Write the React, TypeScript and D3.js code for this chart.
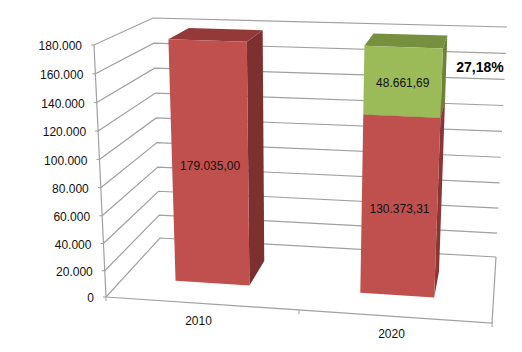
import React from "react";
import * as d3 from "d3";

const categories = ["2010", "2020"];
const redValues = [179035.0, 130373.31];
const greenValues = [0, 48661.69];
const redLabels = ["179.035,00", "130.373,31"];
const greenLabels = ["", "48.661,69"];
const annotation = "27,18%";
const tickValues = [0, 20000, 40000, 60000, 80000, 100000, 120000, 140000, 160000, 180000];

const W = 522, H = 352;
const FBL: [number, number] = [106, 297], FBR: [number, number] = [492, 323];
const BBL: [number, number] = [160, 238], BBR: [number, number] = [496, 257];
const FTL: [number, number] = [94, 45], FTR: [number, number] = [505, 60];
const BTL: [number, number] = [153, 18], BTR: [number, number] = [507, 27];

// slight power curve: the reference's perspective widens the value steps towards the top
const w = d3.scalePow().exponent(1.03).domain([0, 180000]).range([0, 1]);
const band = d3.scaleBand<string>().domain(categories).range([-0.01, 0.99]).paddingInner(0.6).paddingOuter(0.3);
const V0 = 0.33, V1 = 0.73;
const mix = (a: [number, number], b: [number, number], t: number): [number, number] => [a[0] + (b[0] - a[0]) * t, a[1] + (b[1] - a[1]) * t];
const project = (u: number, v: number, val: number): [number, number] => {
  const t = w(val);
  const bottom = mix(mix(FBL, FBR, u), mix(BBL, BBR, u), v);
  const top = mix(mix(FTL, FTR, u), mix(BTL, BTR, u), v);
  return mix(bottom, top, t);
};
const poly = d3.line<[number, number]>().curve(d3.curveLinearClosed);
const num = d3.format(",d");
const tickText = (t: number) => num(t).replace(/,/g, ".");

const stack = d3.stack<number>().keys(["red", "green"]).value((i, k) => (k === "red" ? redValues[i] : greenValues[i]));
const stacked = stack(categories.map((_, i) => i));
const palette: Record<string, { front: string; side: string[]; top: string; text: string[] }> = {
  red: { front: "#C0504D", side: ["#7C3130", "#8A3634"], top: "#933A38", text: redLabels },
  green: { front: "#9BBB59", side: ["#6B8237", "#6B8237"], top: "#76903F", text: greenLabels },
};
const GRID = "#a0a0a0";
const FONT = "'Liberation Sans', Arial, sans-serif";

export default function App() {
  return (
    <svg width={W} height={H} style={{ position: "absolute", left: 0, top: 0, background: "#fff" }} fontFamily={FONT}>
      {tickValues.map((t) => {
        const a = project(0, 0, t), b = project(0, 1, t), c = project(1, 1, t);
        return <polyline key={t} points={[a, b, c].join(" ")} fill="none" stroke={GRID} strokeWidth={1.2} />;
      })}
      <line x1={FTL[0]} y1={FTL[1]} x2={FBL[0]} y2={FBL[1]} stroke={GRID} strokeWidth={1.2} />
      <polyline points={[FBL, FBR, BBR].join(" ")} fill="none" stroke={GRID} strokeWidth={1.2} />
      {[0, 0.5, 1].map((u) => {
        const p = project(u, 0, 0);
        return <line key={u} x1={p[0]} y1={p[1]} x2={p[0]} y2={p[1] + 4} stroke={GRID} strokeWidth={1} />;
      })}
      {tickValues.map((t) => {
        const p = project(0, 0, t);
        return (
          <g key={t}>
            <line x1={p[0] - 3} y1={p[1]} x2={p[0]} y2={p[1]} stroke={GRID} strokeWidth={1} />
            <text x={p[0] - 12} y={p[1] + 1} dy="0.35em" textAnchor="end" fontSize={12} fill="#111">
              {tickText(t)}
            </text>
          </g>
        );
      })}
      {categories.map((c, i) => {
        const p = project(i === 0 ? 0.25 : 0.75, 0, 0);
        return (
          <text key={c} x={p[0] - 4} y={p[1] + 17} dy="0.35em" textAnchor="middle" fontSize={12} fill="#111">
            {c}
          </text>
        );
      })}
      {stacked.map((s) => {
        const col = palette[s.key];
        return s.map((d, i) => {
          if (d[1] - d[0] <= 0) return null;
          const u0 = band(categories[i])!, u1 = u0 + band.bandwidth();
          const front = [project(u0, V0, d[0]), project(u1, V0, d[0]), project(u1, V0, d[1]), project(u0, V0, d[1])];
          const side = [project(u1, V0, d[0]), project(u1, V1, d[0]), project(u1, V1, d[1]), project(u1, V0, d[1])];
          const top = [project(u0, V0, d[1]), project(u1, V0, d[1]), project(u1, V1, d[1]), project(u0, V1, d[1])];
          const c = project((u0 + u1) / 2, V0, (d[0] + d[1]) / 2);
          return (
            <g key={s.key + i}>
              <path d={poly(side)!} fill={col.side[i]} />
              <path d={poly(top)!} fill={col.top} />
              <path d={poly(front)!} fill={col.front} />
              <text x={c[0]} y={c[1] + 1} dy="0.35em" textAnchor="middle" fontSize={12} fill="#111">
                {col.text[i]}
              </text>
            </g>
          );
        });
      })}
      <text x={480} y={67} dy="0.35em" textAnchor="middle" fontSize={14} fontWeight="bold" fill="#000">
        {annotation}
      </text>
    </svg>
  );
}
